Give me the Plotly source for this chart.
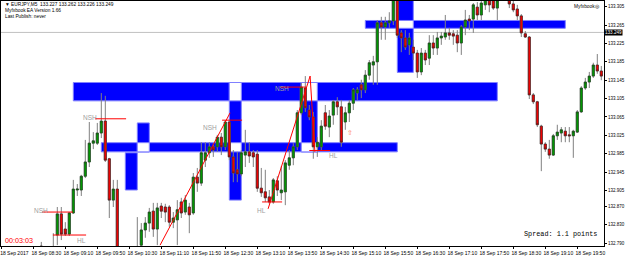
import plotly.graph_objects as go
import pandas as pd

# ---------------- data (EURJPY M5, 18 Sep 2017) ----------------
first_bar = "2017-09-18 08:40"
opens = [132.784,132.775,132.777,132.780,132.808,132.854,132.821,132.810,132.856,132.906,
         132.906,132.936,132.967,133.008,133.008,133.030,133.056,132.974,132.884,132.908,
         132.771,132.765,132.758,132.769,132.775,132.786,132.819,132.834,132.860,132.821,
         132.871,132.869,132.869,132.836,132.841,132.880,132.858,132.869,132.856,132.934,
         132.921,132.971,132.987,133.000,133.000,133.021,133.000,133.054,132.978,132.950,
         132.941,132.982,132.989,132.987,132.984,132.910,132.902,132.891,132.880,132.926,
         132.900,132.902,132.960,132.976,133.000,133.074,133.128,133.080,133.065,133.000,
         133.000,133.074,133.043,133.069,133.098,133.087,133.054,133.074,133.095,133.117,
         133.135,133.124,133.156,133.178,133.185,133.270,133.261,133.270,133.274,133.331,
         133.248,133.237,133.222,133.217,133.204,133.163,133.204,133.193,133.226,133.215,
         133.237,133.239,133.248,133.246,133.243,133.226,133.261,133.278,133.278,133.304,
         133.287,133.309,133.326,133.320,133.302,133.331,133.352,133.326,133.311,133.300,
         133.285,133.246,133.239,133.113,133.098,133.045,133.006,132.995,132.982,133.024,
         133.030,133.034,133.026,133.024,133.032,133.076,133.128,133.141,133.154,133.178,
         133.165]
highs = [132.793,132.782,132.784,132.812,132.869,132.869,132.836,132.858,132.928,132.919,
         132.939,133.015,133.054,133.032,133.052,133.117,133.111,132.976,132.928,132.928,
         132.780,132.775,132.777,132.784,132.847,132.834,132.847,132.867,132.878,132.878,
         132.878,132.876,132.873,132.858,132.884,132.889,132.895,132.878,132.943,132.954,
         133.010,133.010,133.010,133.008,133.026,133.030,133.058,133.058,132.993,132.989,
         132.993,133.037,133.010,132.993,132.993,132.954,132.950,132.906,132.932,132.936,
         132.958,132.971,132.993,133.008,133.080,133.139,133.154,133.091,133.076,133.021,
         133.058,133.091,133.080,133.102,133.108,133.102,133.087,133.102,133.128,133.130,
         133.146,133.167,133.189,133.198,133.276,133.283,133.283,133.293,133.341,133.341,
         133.254,133.254,133.248,133.233,133.211,133.215,133.211,133.243,133.243,133.250,
         133.250,133.287,133.259,133.254,133.254,133.265,133.298,133.287,133.313,133.315,
         133.320,133.337,133.337,133.331,133.331,133.363,133.363,133.341,133.324,133.309,
         133.289,133.252,133.241,133.117,133.100,133.048,133.010,133.015,133.028,133.048,
         133.043,133.043,133.043,133.037,133.080,133.132,133.150,133.163,133.183,133.202,
         133.176]
lows = [132.765,132.765,132.769,132.771,132.786,132.797,132.806,132.806,132.854,132.893,
        132.893,132.932,132.956,132.995,133.004,133.019,132.967,132.845,132.869,132.754,
        132.749,132.749,132.749,132.758,132.765,132.775,132.802,132.815,132.804,132.786,
        132.845,132.836,132.826,132.823,132.786,132.845,132.852,132.812,132.852,132.902,
        132.915,132.956,132.976,132.978,132.989,132.982,132.993,132.971,132.923,132.923,
        132.936,132.956,132.965,132.956,132.902,132.891,132.880,132.876,132.876,132.893,
        132.884,132.873,132.950,132.960,132.993,133.069,133.076,133.058,132.974,132.978,
        132.993,133.037,133.021,133.048,133.069,133.000,133.037,133.054,133.080,133.102,
        133.106,133.117,133.146,133.135,133.135,133.233,133.233,133.259,133.265,133.237,
        133.206,133.211,133.200,133.189,133.150,133.156,133.178,133.178,133.200,133.200,
        133.222,133.233,133.233,133.222,133.206,133.200,133.243,133.254,133.248,133.276,
        133.276,133.298,133.293,133.298,133.276,133.324,133.322,133.302,133.293,133.276,
        133.239,133.237,133.104,133.093,133.043,132.947,132.989,132.974,132.980,133.015,
        133.010,133.010,133.010,132.976,133.030,133.074,133.124,133.128,133.150,133.159,
        133.145]
closes = [132.775,132.777,132.782,132.782,132.854,132.810,132.810,132.856,132.908,132.908,
          132.936,132.967,133.008,133.013,133.030,133.056,132.971,132.884,132.908,132.775,
          132.765,132.758,132.769,132.775,132.780,132.819,132.834,132.858,132.821,132.867,
          132.860,132.858,132.836,132.845,132.863,132.856,132.884,132.852,132.934,132.921,
          132.987,132.987,133.000,132.993,133.021,133.000,133.054,132.978,132.943,132.941,
          132.987,132.989,132.980,132.978,132.910,132.900,132.889,132.880,132.928,132.906,
          132.906,132.965,132.976,133.000,133.074,133.130,133.085,133.065,133.000,133.010,
          133.045,133.045,133.067,133.098,133.087,133.010,133.074,133.095,133.124,133.124,
          133.124,133.156,133.183,133.185,133.270,133.261,133.270,133.274,133.331,133.243,
          133.237,133.217,133.237,133.204,133.163,133.204,133.189,133.226,133.215,133.237,
          133.241,133.248,133.243,133.241,133.226,133.261,133.276,133.274,133.309,133.287,
          133.313,133.331,133.309,133.302,133.320,133.352,133.331,133.311,133.298,133.285,
          133.248,133.239,133.113,133.098,133.048,133.006,132.995,132.982,133.024,133.032,
          133.037,133.024,133.024,133.034,133.076,133.128,133.141,133.154,133.178,133.165,
          133.154]

# x axis tick labels
tick_times = ["07:50","08:30","09:10","09:50","10:30","11:10","11:50","12:30","13:10","13:50",
              "14:30","15:10","15:50","16:30","17:10","17:50","18:30","19:10","19:50"]
tick_labels = ["18 Sep 2017"] + ["18 Sep " + t for t in tick_times[1:]]
# y axis tick labels
y_ticks = [133.305,133.265,133.225,133.185,133.145,133.105,133.065,133.025,132.985,
           132.945,132.905,132.870,132.830,132.790]
current_price = 133.249

# supply / demand zones (start, end, low, high)
zone_start = ["09:20","09:55","10:40","10:25","12:35","14:05","15:25","16:05"]
zone_end   = ["18:10","16:05","10:55","10:40","12:50","14:25","19:35","16:25"]
zone_low   = [133.100,132.989,132.989,132.906,132.884,132.989,133.258,133.162]
zone_high  = [133.140,133.009,133.052,132.987,133.140,133.140,133.275,133.360]

# swing level lines (start, end, price)
lvl_start = ["08:41","08:54:30","09:47","12:26","13:38:30","13:16","14:15"]
lvl_end   = ["09:19:30","09:36","10:26","12:51","14:11","13:41","14:41"]
lvl_price = [132.858,132.808,133.061,133.058,133.130,132.880,132.992]

# swing labels
lab_text  = ["NSH","HL","NSH","NSH","HL","NSH","HL"]
lab_time  = ["08:39:30","09:30:15","09:41","12:11","13:15:15","13:40:15","14:45:15"]
lab_price = [132.862,132.797,133.063,133.043,132.862,133.126,132.982]

# zigzag legs
zz1_time = ["11:08:30","12:36"]
zz1_price = [132.786,133.074]
zz2_time = ["13:23:30","14:16","14:22"]
zz2_price = [132.865,133.154,132.989]

day = "2017-09-18 "
times = pd.date_range(first_bar, periods=len(opens), freq="5min")
body_top = [max(o, c) for o, c in zip(opens, closes)]
body_bot = [min(o, c) for o, c in zip(opens, closes)]

fig = go.Figure()

# wicks (gray)
fig.add_trace(go.Candlestick(
    x=times, open=opens, high=highs, low=lows, close=closes,
    increasing=dict(line=dict(color="#808080", width=1), fillcolor="#808080"),
    decreasing=dict(line=dict(color="#808080", width=1), fillcolor="#808080"),
    whiskerwidth=0, showlegend=False, hoverinfo="skip"))
# bodies
fig.add_trace(go.Candlestick(
    x=times, open=opens, high=body_top, low=body_bot, close=closes,
    increasing=dict(line=dict(color="#1e3a1e", width=0.6), fillcolor="#00a000"),
    decreasing=dict(line=dict(color="#3a1e1e", width=0.6), fillcolor="#ff0000"),
    whiskerwidth=0, showlegend=False, hoverinfo="skip"))

fig.add_trace(go.Scatter(x=[day + t for t in zz1_time], y=zz1_price, mode="lines",
                         line=dict(color="#ff0000", width=1), showlegend=False, hoverinfo="skip"))
fig.add_trace(go.Scatter(x=[day + t for t in zz2_time], y=zz2_price, mode="lines",
                         line=dict(color="#ff0000", width=1), showlegend=False, hoverinfo="skip"))

shapes = []
# zones
for s, e, lo, hi in zip(zone_start, zone_end, zone_low, zone_high):
    shapes.append(dict(type="rect", xref="x", yref="y", x0=day + s, x1=day + e, y0=lo, y1=hi,
                       fillcolor="#0000ff", line=dict(color="#8080ff", width=1), layer="below"))
# overlapping parts of zones are shown inverted (white)
n = len(zone_start)
for i in range(n):
    for j in range(i + 1, n):
        s = max(zone_start[i], zone_start[j]); e = min(zone_end[i], zone_end[j])
        lo = max(zone_low[i], zone_low[j]); hi = min(zone_high[i], zone_high[j])
        if s < e and lo < hi:
            shapes.append(dict(type="rect", xref="x", yref="y", x0=day + s, x1=day + e, y0=lo, y1=hi,
                               fillcolor="#ffffff", line=dict(color="#8080ff", width=1), layer="below"))
# current price line
shapes.append(dict(type="line", xref="paper", yref="y", x0=0, x1=1, y0=current_price, y1=current_price,
                   line=dict(color="#c0c0c0", width=1), layer="below"))
# swing levels
for s, e, p in zip(lvl_start, lvl_end, lvl_price):
    shapes.append(dict(type="line", xref="x", yref="y", x0=day + s, x1=day + e, y0=p, y1=p,
                       line=dict(color="#ff0000", width=1)))

ann = []
for t, tm, p in zip(lab_text, lab_time, lab_price):
    ann.append(dict(x=day + tm, y=p, xref="x", yref="y", text=t, showarrow=False,
                    font=dict(family="Liberation Sans", size=6.5, color="#a0a0a0")))
ann.append(dict(x=day + "15:06", y=133.030, xref="x", yref="y", text="⇧", showarrow=False,
                font=dict(family="DejaVu Sans", size=7, color="#ff8060")))

info = dict(family="Liberation Sans", size=4.8, color="#000000")
ann += [
    dict(x=0.003, y=0.984, xref="paper", yref="paper", xanchor="left", yanchor="middle",
         text="▼ EURJPY,M5  133.227 133.262 133.226 133.249", showarrow=False, font=info),
    dict(x=0.003, y=0.960, xref="paper", yref="paper", xanchor="left", yanchor="middle",
         text="Myfxbook EA Version 1.66", showarrow=False, font=info),
    dict(x=0.003, y=0.936, xref="paper", yref="paper", xanchor="left", yanchor="middle",
         text="Last Publish: never", showarrow=False, font=info),
    dict(x=0.997, y=0.978, xref="paper", yref="paper", xanchor="right", yanchor="middle",
         text="Myfxbook◎", showarrow=False, font=info),
    dict(x=0.003, y=0.024, xref="paper", yref="paper", xanchor="left", yanchor="middle",
         text="00:03:03", showarrow=False,
         font=dict(family="Liberation Sans", size=7.2, color="#ff0000")),
    dict(x=0.864, y=0.048, xref="paper", yref="paper", xanchor="left", yanchor="middle",
         text="Spread: 1.1 points", showarrow=False,
         font=dict(family="Liberation Mono", size=6.8, color="#000000")),
    dict(x=1.0, y=current_price, xref="paper", yref="y", xanchor="left", yanchor="middle",
         text=f"{current_price:.3f}", showarrow=False, bgcolor="#000000", borderpad=0,
         font=dict(family="Liberation Sans", size=4.6, color="#ffffff")),
]

fig.update_layout(
    width=625, height=256, margin=dict(l=1, r=21, t=1, b=10),
    paper_bgcolor="#ffffff", plot_bgcolor="#ffffff",
    shapes=shapes, annotations=ann, boxgap=0.25, boxmode="overlay",
    xaxis=dict(type="date", range=[day + "07:49:37.5", day + "20:23:22.5"], automargin=False,
               rangeslider=dict(visible=False), showgrid=False, zeroline=False,
               tickvals=[day + t for t in tick_times], ticktext=tick_labels, tickangle=0,
               ticks="outside", ticklen=2, tickcolor="#000000", ticklabelshift=13,
               tickfont=dict(family="Liberation Sans", size=5.0, color="#000000"),
               showline=True, mirror=True, linecolor="#000000", linewidth=1),
    yaxis=dict(range=[132.7841, 133.3174], side="right", showgrid=False, zeroline=False,
               automargin=False,
               tickvals=y_ticks, ticktext=[f"{v:.3f}" for v in y_ticks],
               ticks="outside", ticklen=2, tickcolor="#000000",
               tickfont=dict(family="Liberation Sans", size=4.5, color="#000000"),
               showline=True, mirror=True, linecolor="#000000", linewidth=1),
)

fig.write_html("out.html")
